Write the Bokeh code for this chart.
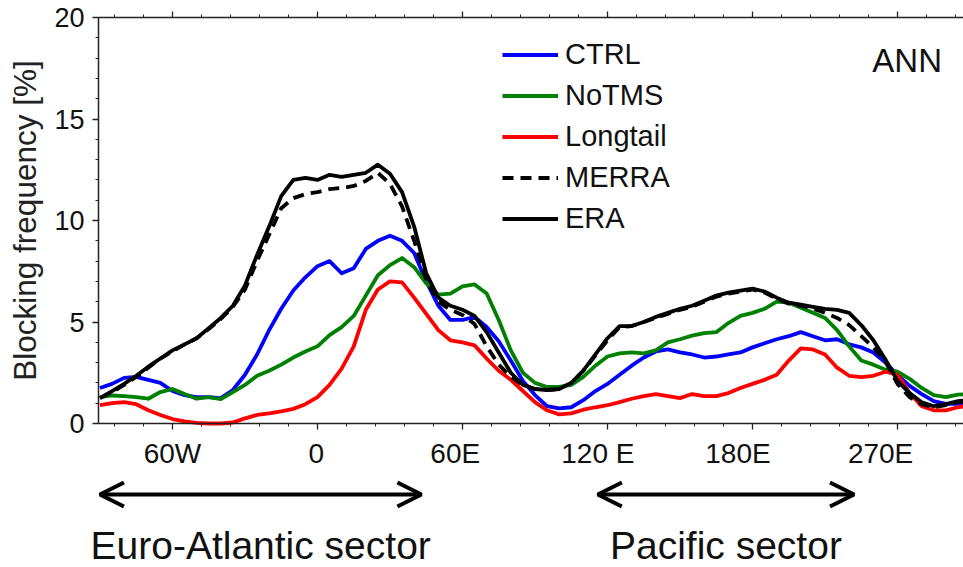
from bokeh.plotting import figure
from bokeh.models import (Range1d, FixedTicker, LinearAxis, Legend, LegendItem, Label,
                          Arrow, OpenHead, ColumnDataSource)
from bokeh.embed import file_html
from bokeh.resources import INLINE
from bokeh.core.properties import value

# ---------------- data ----------------
lon = list(range(-90, 275, 5))

ctrl = [1.75, 1.95, 2.25, 2.3, 2.15, 2.0, 1.6, 1.4, 1.3, 1.3,
        1.25, 1.65, 2.4, 3.4, 4.6, 5.65, 6.55, 7.2, 7.75, 8.0,
        7.4, 7.65, 8.6, 9.0, 9.25, 9.0, 8.4, 7.0, 5.8, 5.1,
        5.1, 5.25, 4.75, 4.05, 3.1, 2.1, 1.4, 0.85, 0.75, 0.8,
        1.15, 1.6, 1.95, 2.4, 2.85, 3.25, 3.55, 3.65, 3.5, 3.4,
        3.25, 3.3, 3.4, 3.5, 3.75, 3.95, 4.15, 4.3, 4.5, 4.3,
        4.1, 4.15, 3.9, 3.75, 3.5, 3.0, 2.4, 1.85, 1.45, 1.1,
        0.97, 0.97, 1.0]

notms = [1.3, 1.38, 1.35, 1.3, 1.22, 1.55, 1.7, 1.45, 1.22, 1.3,
         1.2, 1.55, 1.9, 2.35, 2.6, 2.9, 3.25, 3.55, 3.8, 4.35,
         4.75, 5.3, 6.3, 7.3, 7.8, 8.15, 7.7, 6.9, 6.35, 6.4,
         6.75, 6.85, 6.4, 5.1, 3.6, 2.5, 2.0, 1.8, 1.8, 1.9,
         2.3, 2.85, 3.3, 3.45, 3.5, 3.45, 3.6, 4.0, 4.15, 4.33,
         4.45, 4.5, 4.95, 5.3, 5.45, 5.65, 6.0, 5.95, 5.7, 5.45,
         5.2, 4.6, 3.8, 3.1, 2.9, 2.65, 2.55, 2.2, 1.75, 1.4,
         1.3, 1.42, 1.46]

longtail = [0.9, 1.0, 1.05, 0.95, 0.65, 0.42, 0.22, 0.1, 0.03, 0.0,
            0.0, 0.05, 0.25, 0.42, 0.5, 0.6, 0.72, 0.95, 1.3, 1.9,
            2.7, 3.8, 5.6, 6.6, 7.0, 6.95, 6.2, 5.4, 4.6, 4.1,
            4.0, 3.85, 3.2, 2.6, 2.15, 1.6, 1.05, 0.65, 0.45, 0.5,
            0.68, 0.8, 0.9, 1.05, 1.22, 1.35, 1.45, 1.35, 1.25, 1.45,
            1.35, 1.35, 1.5, 1.75, 1.95, 2.15, 2.4, 3.1, 3.7, 3.65,
            3.4, 2.75, 2.35, 2.28, 2.35, 2.55, 2.4, 1.5, 0.85, 0.65,
            0.65, 0.8, 0.89]

merra = [1.25, 1.55, 1.9, 2.3, 2.75, 3.2, 3.55, 3.9, 4.2, 4.65,
         5.15, 5.75, 6.6, 8.0, 9.3, 10.6, 11.1, 11.3, 11.4, 11.55,
         11.6, 11.7, 11.95, 12.35, 11.8, 10.7, 9.0, 7.1, 6.0, 5.6,
         5.35, 4.9, 3.8, 2.9, 2.3, 1.9, 1.7, 1.65, 1.7, 2.0,
         2.6, 3.35, 4.1, 4.75, 4.8, 5.0, 5.2, 5.4, 5.6, 5.75,
         6.0, 6.25, 6.4, 6.5, 6.6, 6.45, 6.15, 5.9, 5.8, 5.65,
         5.45, 5.2, 4.85, 4.3, 3.75, 3.05, 1.95, 1.3, 0.95, 0.8,
         0.9, 1.05, 1.1]

era = [1.25, 1.6, 1.95, 2.35, 2.8, 3.2, 3.6, 3.9, 4.2, 4.7,
       5.2, 5.8, 6.8, 8.3, 9.7, 11.2, 12.0, 12.1, 12.0, 12.25,
       12.15, 12.25, 12.35, 12.75, 12.3, 11.4, 9.7, 7.4, 6.2, 5.8,
       5.6, 5.3, 4.5, 3.5, 2.5, 1.9, 1.7, 1.65, 1.7, 2.0,
       2.6, 3.4, 4.2, 4.8, 4.8, 5.0, 5.25, 5.45, 5.65, 5.8,
       6.05, 6.3, 6.45, 6.55, 6.64, 6.5, 6.2, 5.95, 5.85, 5.75,
       5.65, 5.6, 5.45, 4.85, 4.1, 3.15, 2.1, 1.5, 1.05, 0.85,
       0.95, 1.1, 1.15]

series_names = ["CTRL", "NoTMS", "Longtail", "MERRA", "ERA"]

x_ticks = [-60, 0, 60, 120, 180, 240]
x_tick_labels = ["60W", "0", "60E", "120 E", "180E", "270E"]
x_label_at = [-60, -0.5, 57, 116, 174, 233]   # where the printed labels sit
y_ticks = [0, 5, 10, 15, 20]

sector_names = ["Euro-Atlantic sector", "Pacific sector"]
sector_start = [-90, 116]
sector_end = [43, 222]

season = "ANN"

# ---------------- layout constants ----------------
FONT = "Liberation Sans"
LEFT = 98          # px from page left to the y axis
TOP = 17           # px from page top to y = 20
PLOT_W = 865       # px from the y axis to the right edge
PLOT_H = 406       # px between y = 0 and y = 20
FRAME_H = 567
X0, X1 = -90.6, 267.3
Y0, Y1 = 0, 20
DPP = (X1 - X0) / PLOT_W
UPP = (Y1 - Y0) / PLOT_H
XL = X0 - LEFT * DPP
YT = Y1 + TOP * UPP
YB = Y0 - (FRAME_H - TOP - PLOT_H) * UPP

src = ColumnDataSource(dict(lon=lon, ctrl=ctrl, notms=notms, longtail=longtail,
                            merra=merra, era=era))

p = figure(frame_width=963, frame_height=FRAME_H, output_backend="svg",
           toolbar_location=None, x_range=Range1d(XL, X1), y_range=Range1d(YB, YT),
           min_border=0, outline_line_color=None,
           background_fill_color="white", border_fill_color="white")
p.grid.visible = False

xt = FixedTicker(ticks=x_ticks, minor_ticks=list(range(-84, 270, 12)))
yt = FixedTicker(ticks=y_ticks, minor_ticks=list(range(0, 21)))

LINE = dict(axis_line_color="#222222", axis_line_width=1.5,
            major_tick_line_color="#222222", minor_tick_line_color="#222222",
            major_tick_line_width=1.3, minor_tick_line_width=1.0,
            major_tick_in=0, major_tick_out=6, minor_tick_in=0, minor_tick_out=3)
LBL = dict(major_label_text_font=FONT, major_label_text_color="#111111",
           major_label_standoff=8)

xa = p.xaxis[0]
ya = p.yaxis[0]
for k, v in LINE.items():
    setattr(xa, k, v)
    setattr(ya, k, v)
for k, v in LBL.items():
    setattr(ya, k, v)

xa.ticker = xt
xa.fixed_location = Y0
xa.bounds = (X0, X1)
xa.major_label_overrides = {t: "" for t in x_ticks}

ya.ticker = yt
ya.fixed_location = X0
ya.bounds = (Y0, Y1)
ya.major_label_text_font_size = "27px"
ya.axis_label = "Blocking frequency [%]"
ya.axis_label_text_font = FONT
ya.axis_label_text_font_size = "31.5px"
ya.axis_label_text_font_style = "normal"
ya.axis_label_text_color = "#222222"
ya.axis_label_standoff = 8

# printed longitude labels
xlab = LinearAxis(ticker=FixedTicker(ticks=x_label_at, minor_ticks=[]), fixed_location=Y0,
                  axis_line_color=None, major_tick_line_color=None, minor_tick_line_color=None,
                  major_tick_in=0, major_tick_out=6,
                  major_label_overrides={t: l for t, l in zip(x_label_at, x_tick_labels)},
                  major_label_text_font_size="28px", **LBL)
p.add_layout(xlab, "below")

top = LinearAxis(ticker=xt, fixed_location=Y1, bounds=(X0, X1),
                 major_label_overrides={t: "" for t in x_ticks}, **LINE)
p.add_layout(top, "above")

styles = {
    "ctrl": dict(line_color="#0000ff", line_dash="solid"),
    "notms": dict(line_color="#008000", line_dash="solid"),
    "longtail": dict(line_color="#ff0000", line_dash="solid"),
    "merra": dict(line_color="black", line_dash="11 7"),
    "era": dict(line_color="black", line_dash="solid"),
}
renderers = []
for key in ["ctrl", "notms", "longtail", "merra", "era"]:
    r = p.line("lon", key, source=src, line_width=3.8, line_join="round", **styles[key])
    renderers.append(r)

# legend: top-left corner at page (502, 37.5); location is its bottom-left from frame bottom
LEG_ROW, LEG_GAP = 33, 8
leg_h = 5 * LEG_ROW + 4 * LEG_GAP
legend = Legend(items=[LegendItem(label=n, renderers=[r]) for n, r in zip(series_names, renderers)],
                location=(502, int(round(FRAME_H - 37.5 - leg_h))), orientation="vertical",
                border_line_color=None, background_fill_alpha=0, padding=0, margin=0,
                spacing=LEG_GAP, glyph_width=56, glyph_height=LEG_ROW, label_height=LEG_ROW,
                label_standoff=7, label_text_font=FONT, label_text_font_size="29px",
                label_text_color="#111111")
p.add_layout(legend)

p.add_layout(Label(x=244, y=17.9, text=season, text_font=FONT, text_font_size="33px",
                   text_align="center", text_baseline="alphabetic", text_color="#111111"))

# ---------------- sectors below the axis ----------------
ARROW_Y = -3.5
TEXT_Y = -6.0
sec = ColumnDataSource(dict(
    x0=sector_start, x1=sector_end, name=sector_names,
    xm=[(a + b) / 2 for a, b in zip(sector_start, sector_end)],
    y=[ARROW_Y] * len(sector_names), ty=[TEXT_Y] * len(sector_names)))

p.add_layout(Arrow(x_start="x0", y_start="y", x_end="x1", y_end="y", source=sec,
                   line_width=4, line_color="black",
                   start=OpenHead(size=24, line_width=4, line_color="black"),
                   end=OpenHead(size=24, line_width=4, line_color="black")))
p.text(x="xm", y="ty", text="name", source=sec, text_font=value(FONT),
       text_font_size="39px", text_align="center", text_baseline="alphabetic",
       text_color="#111111")

open("out.html", "w").write(file_html(p, INLINE))
